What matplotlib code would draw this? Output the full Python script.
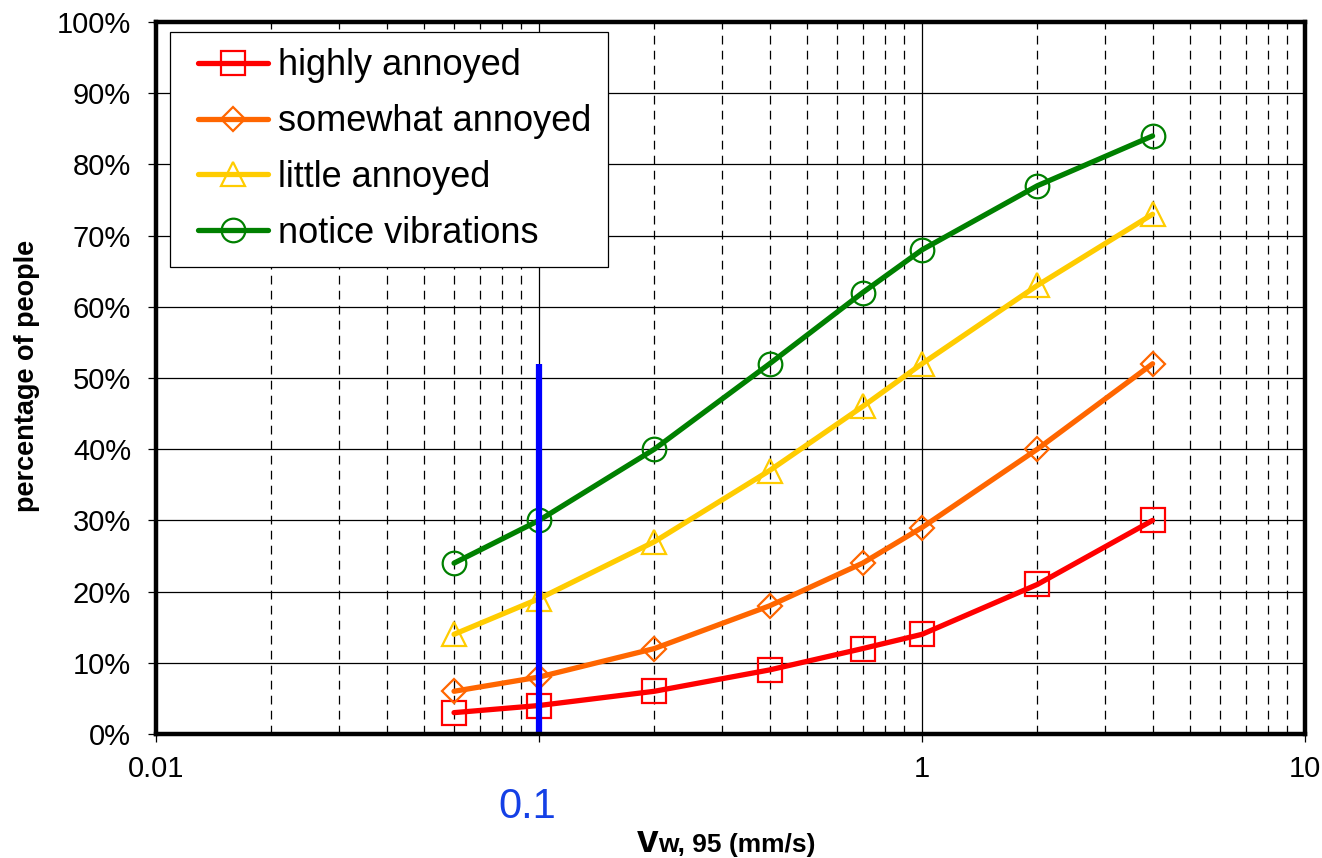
import matplotlib
matplotlib.use("Agg")
import matplotlib.pyplot as plt
from matplotlib.ticker import FixedLocator, NullFormatter, FuncFormatter
from matplotlib.lines import Line2D
from matplotlib.legend_handler import HandlerLine2D

plt.rcParams['font.family'] = ['Liberation Sans', 'DejaVu Sans']

# Vibration velocity (mm/s) and share of people responding (%)
velocity = [0.06, 0.1, 0.2, 0.4, 0.7, 1, 2, 4]
highly_annoyed = [3, 4, 6, 9, 12, 14, 21, 30]
somewhat_annoyed = [6, 8, 12, 18, 24, 29, 40, 52]
little_annoyed = [14, 19, 27, 37, 46, 52, 63, 73]
notice_vibrations = [24, 30, 40, 52, 62, 68, 77, 84]

series_labels = ["highly annoyed", "somewhat annoyed", "little annoyed", "notice vibrations"]
series_colors = ["#FF0000", "#FF6600", "#FFCC00", "#008000"]
series_markers = ["s", "D", "^", "o"]
series_msizes = [17, 12, 17, 17]

x_ticks = [0.01, 0.1, 1, 10]
x_tick_labels = ["0.01", "", "1", "10"]
y_ticks = [0, 10, 20, 30, 40, 50, 60, 70, 80, 90, 100]

threshold_x = 0.1
threshold_top = 52

fig = plt.figure(figsize=(13.22, 8.58), dpi=100)
ax = fig.add_axes([156 / 1322, 124 / 858, 1149 / 1322, 712 / 858])

ax.set_xscale("log")
ax.set_xlim(0.01, 10)
ax.set_ylim(0, 100)

# grid: solid horizontal lines, dashed minor verticals, solid verticals at decades
ax.set_axisbelow(True)
ax.xaxis.set_major_locator(FixedLocator(x_ticks))
ax.xaxis.set_minor_locator(FixedLocator(
    [m * d for d in (0.01, 0.1, 1) for m in range(2, 10)]))
ax.xaxis.set_minor_formatter(NullFormatter())
ax.set_xticklabels(x_tick_labels)
ax.set_yticks(y_ticks)
ax.yaxis.set_major_formatter(FuncFormatter(lambda v, p: f"{v:.0f}%"))

ax.grid(axis="y", which="major", color="black", lw=0.9)
ax.grid(axis="x", which="major", color="black", lw=0.9)
ax.grid(axis="x", which="minor", color="black", lw=0.9, linestyle=(0, (7, 5)))

ax.tick_params(axis="x", which="major", direction="out", length=6, width=0.9,
               labelsize=21, pad=9)
ax.tick_params(axis="x", which="minor", length=0)
ax.tick_params(axis="y", which="major", direction="out", length=6, width=0.9,
               labelsize=21, pad=12)

for s in ax.spines.values():
    s.set_linewidth(3.2)
    s.set_color("black")
    s.set_zorder(10)

all_series = [highly_annoyed, somewhat_annoyed, little_annoyed, notice_vibrations]
for vals, lab, col, mk, ms in zip(all_series, series_labels, series_colors,
                                  series_markers, series_msizes):
    ax.plot(velocity, vals, color=col, lw=3.8, marker=mk, markersize=ms,
            markerfacecolor="none", markeredgecolor=col, markeredgewidth=1.6,
            solid_capstyle="round", solid_joinstyle="round", label=lab, zorder=3)

# threshold line at 0.1 mm/s
ax.plot([threshold_x, threshold_x], [0, threshold_top], color="#0000FF", lw=4.5,
        zorder=5, solid_capstyle="butt")
ax.annotate(f"{threshold_x:g}", xy=(threshold_x, 0), xycoords=("data", "axes fraction"),
            xytext=(-8.5, -60.5), textcoords="offset points", ha="center",
            va="baseline", fontsize=30, color="#1440E6", annotation_clip=False)

leg = ax.legend(loc="upper left", bbox_to_anchor=(0.012, 0.986), borderaxespad=0,
                fontsize=26, frameon=True, fancybox=False, framealpha=1,
                edgecolor="black", borderpad=0.45, labelspacing=0.58,
                handlelength=2.28, handletextpad=0.28, numpoints=1,
                handler_map={Line2D: HandlerLine2D(xpad=0.33)})
leg.get_frame().set_linewidth(0.9)
leg.set_zorder(12)

fig.text(27 / 1322, 1 - 376 / 858, "percentage of people", rotation=90,
         ha="center", va="center", fontsize=19.5, fontweight="bold")
fig.text(658 / 1322, 6 / 858, "v", ha="right", va="baseline", fontsize=28,
         fontweight="bold")
fig.text(658 / 1322, 6 / 858, "w, 95 (mm/s)", ha="left", va="baseline",
         fontsize=19, fontweight="bold")

fig.savefig("out.png", dpi=100, facecolor="white")
